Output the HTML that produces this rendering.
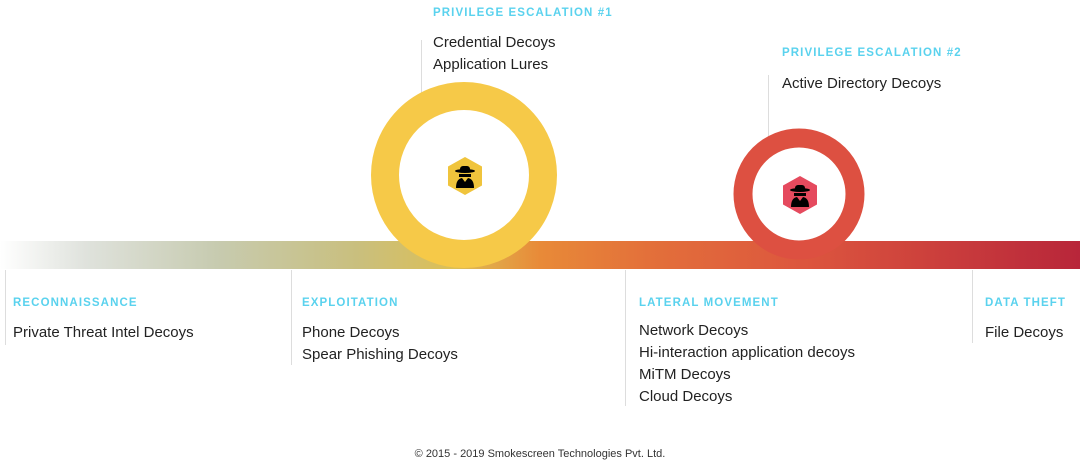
<!DOCTYPE html>
<html><head><style>
body{margin:0;width:1080px;height:465px;background:#fff;position:relative;overflow:hidden;font-family:"Liberation Sans",sans-serif;}
.t{position:absolute;color:#5ad2ee;font-weight:bold;font-size:11.5px;letter-spacing:1.1px;}
.i{position:absolute;color:#222;font-size:15px;line-height:22px;}
.v{position:absolute;width:1px;background:#ddd;}
</style></head><body>
<div style="position:absolute;left:0;top:241px;width:1080px;height:28px;background:linear-gradient(90deg,#fff 0%,#dfe2dc 8%,#c7cbb0 20%,#c9bf7e 33%,#dcbf56 42%,#e88a38 50%,#e3703a 60%,#dc553e 75%,#b8263a 100%);"></div>
<div class="v" style="left:5px;top:270px;height:75px"></div>
<div class="v" style="left:291px;top:270px;height:95px"></div>
<div class="v" style="left:625px;top:270px;height:136px"></div>
<div class="v" style="left:972px;top:270px;height:73px"></div>
<div class="v" style="left:421px;top:40px;height:60px"></div>
<div class="v" style="left:768px;top:75px;height:62px"></div>
<svg style="position:absolute;left:0;top:0" width="1080" height="465">
<circle cx="464" cy="175" r="79" fill="none" stroke="#f6c948" stroke-width="28"/>
<circle cx="799" cy="194" r="56" fill="none" stroke="#dd5041" stroke-width="19"/>
<g transform="translate(465,176)">
<polygon points="0,-19 17,-9.5 17,9.5 0,19 -17,9.5 -17,-9.5" fill="#f0c43c"/>
<ellipse cx="0" cy="-5" rx="10" ry="2" fill="#000"/><rect x="-5" y="-10" width="10" height="6" rx="3" fill="#000"/>
<rect x="-6" y="-2" width="12" height="3" fill="#000"/><path d="M-9,12 Q-9,3 -3,2 L0,6 L3,2 Q9,3 9,12Z" fill="#000"/>
</g>
<g transform="translate(800,195)">
<polygon points="0,-19 17,-9.5 17,9.5 0,19 -17,9.5 -17,-9.5" fill="#e54a5e"/>
<ellipse cx="0" cy="-5" rx="10" ry="2" fill="#000"/><rect x="-5" y="-10" width="10" height="6" rx="3" fill="#000"/>
<rect x="-6" y="-2" width="12" height="3" fill="#000"/><path d="M-9,12 Q-9,3 -3,2 L0,6 L3,2 Q9,3 9,12Z" fill="#000"/>
</g>
</svg>
<div class="t" style="left:433px;top:7px">PRIVILEGE ESCALATION #1</div>
<div class="i" style="left:433px;top:32px">Credential Decoys<br>Application Lures</div>
<div class="t" style="left:782px;top:47px">PRIVILEGE ESCALATION #2</div>
<div class="i" style="left:782px;top:73px">Active Directory Decoys</div>
<div class="t" style="left:13px;top:297px">RECONNAISSANCE</div>
<div class="i" style="left:13px;top:322px">Private Threat Intel Decoys</div>
<div class="t" style="left:302px;top:297px">EXPLOITATION</div>
<div class="i" style="left:302px;top:322px">Phone Decoys<br>Spear Phishing Decoys</div>
<div class="t" style="left:639px;top:297px">LATERAL MOVEMENT</div>
<div class="i" style="left:639px;top:320px">Network Decoys<br>Hi-interaction application decoys<br>MiTM Decoys<br>Cloud Decoys</div>
<div class="t" style="left:985px;top:297px">DATA THEFT</div>
<div class="i" style="left:985px;top:322px">File Decoys</div>
<div style="position:absolute;left:0;width:1080px;text-align:center;top:448px;font-size:11px;color:#333">© 2015 - 2019 Smokescreen Technologies Pvt. Ltd.</div>
</body></html>
